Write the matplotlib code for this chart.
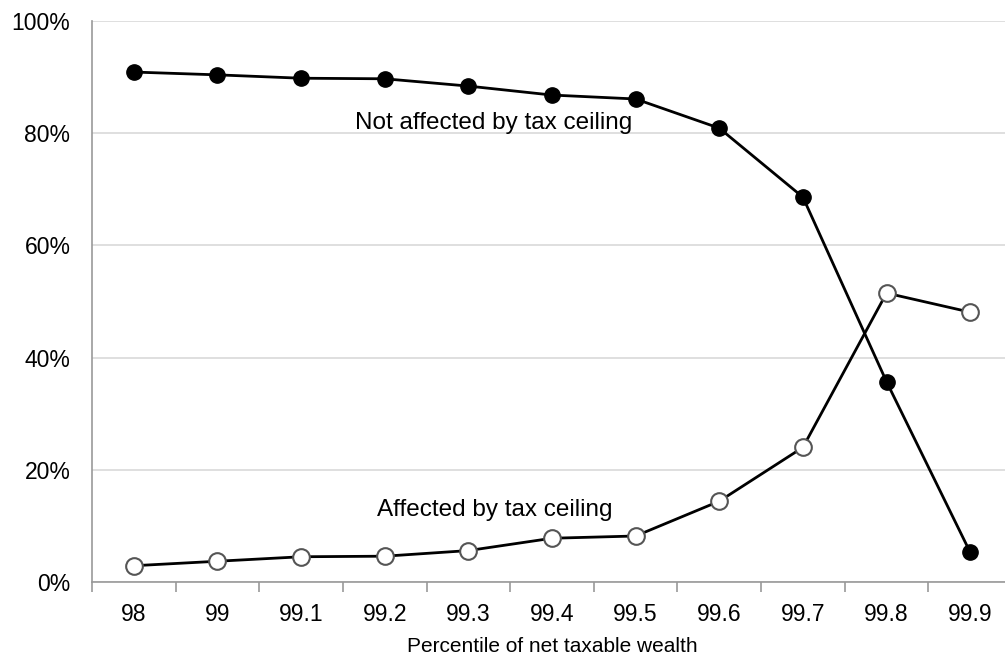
import matplotlib.pyplot as plt
import numpy as np

plt.rcParams['font.family'] = ['Liberation Sans', 'DejaVu Sans']

percentiles = ["98", "99", "99.1", "99.2", "99.3", "99.4", "99.5", "99.6", "99.7", "99.8", "99.9"]
not_affected = [90.9, 90.4, 89.8, 89.7, 88.4, 86.8, 86.1, 80.9, 68.6, 35.7, 5.3]
affected = [2.9, 3.7, 4.5, 4.6, 5.6, 7.8, 8.2, 14.4, 24.0, 51.5, 48.1]

x = np.arange(len(percentiles))

fig = plt.figure(figsize=(10.05, 6.58), dpi=100)
ax = fig.add_axes([92 / 1005, 1 - 582 / 658, 920 / 1005, 561 / 658])

ax.plot(x, not_affected, color="black", lw=2, marker="o", ms=11,
        mfc="black", mec="black", zorder=3)
ax.plot(x, affected, color="black", lw=2, marker="o", ms=12,
        mfc="white", mec="#555555", mew=1.5, zorder=3)

ax.text(4.3, 81.8, "Not affected by tax ceiling", fontsize=17.5, ha="center", va="center")
ax.text(4.32, 12.8, "Affected by tax ceiling", fontsize=17.5, ha="center", va="center")

ax.set_xlim(-0.5, len(percentiles) - 0.5)
ax.set_ylim(0, 100)
ax.set_yticks(np.arange(0, 101, 20))
ax.set_yticklabels([f"{v}%" for v in range(0, 101, 20)])
ax.yaxis.grid(True, color="#d9d9d9", lw=1.2)
ax.set_axisbelow(True)

ax.set_xticks(x)
ax.set_xticklabels(percentiles)
ax.set_xticks(np.arange(-0.5, len(percentiles)), minor=True)
ax.tick_params(axis="x", which="major", length=0, labelsize=16.5, pad=15)
ax.tick_params(axis="x", which="minor", length=7, color="#999999", width=1.2)
ax.tick_params(axis="y", length=0, labelsize=16.5, pad=15.5)

for s in ["top", "right"]:
    ax.spines[s].set_visible(False)
for s in ["left", "bottom"]:
    ax.spines[s].set_color("#999999")
    ax.spines[s].set_linewidth(1.2)

ax.set_xlabel("Percentile of net taxable wealth", fontsize=15, labelpad=8)

fig.savefig("out.png", dpi=100)
